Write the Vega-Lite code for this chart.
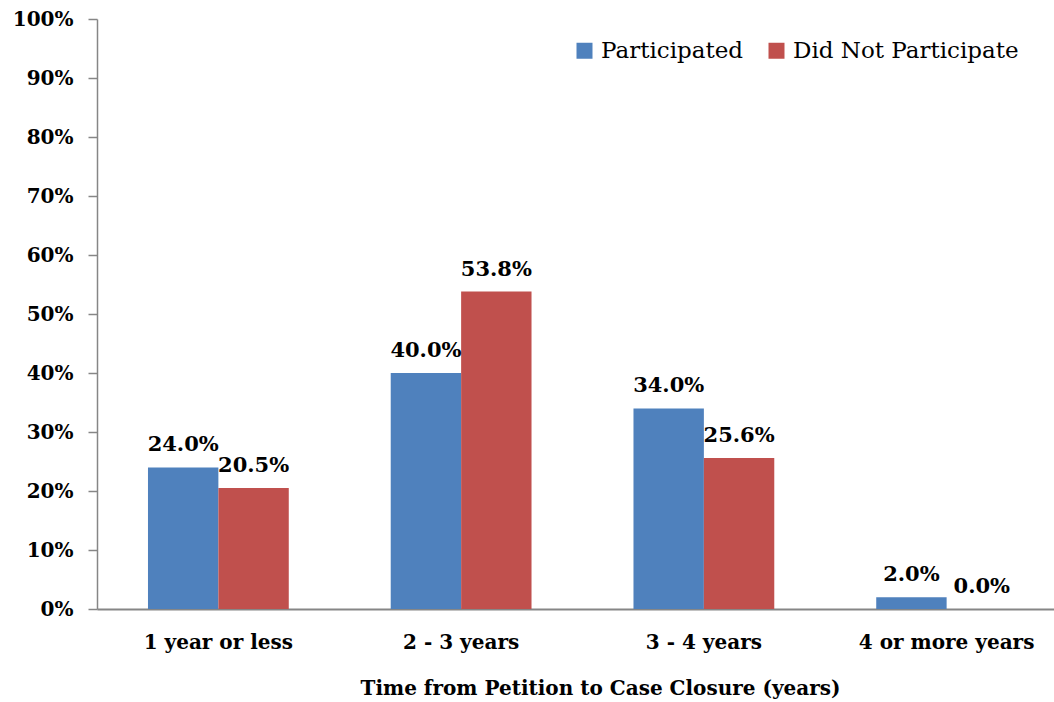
{
  "$schema": "https://vega.github.io/schema/vega-lite/v6.json",
  "width": 957,
  "height": 590,
  "autosize": {"type": "none"},
  "padding": {"left": 97, "top": 19, "right": 0, "bottom": 93},
  "config": {"view": {"stroke": null}, "font": "DejaVu Serif"},
  "data": {
    "values": [
      {"period": "1 year or less", "group": "Participated", "value": 0.24},
      {"period": "1 year or less", "group": "Did Not Participate", "value": 0.205},
      {"period": "2 - 3 years", "group": "Participated", "value": 0.40},
      {"period": "2 - 3 years", "group": "Did Not Participate", "value": 0.538},
      {"period": "3 - 4 years", "group": "Participated", "value": 0.34},
      {"period": "3 - 4 years", "group": "Did Not Participate", "value": 0.256},
      {"period": "4 or more years", "group": "Participated", "value": 0.02},
      {"period": "4 or more years", "group": "Did Not Participate", "value": 0.0}
    ]
  },
  "encoding": {
    "x": {
      "field": "period",
      "type": "nominal",
      "sort": ["1 year or less", "2 - 3 years", "3 - 4 years", "4 or more years"],
      "scale": {"range": [0, 971], "paddingInner": 0.42, "paddingOuter": 0.21},
      "axis": {
        "title": "Time from Petition to Case Closure (years)",
        "titleFont": "DejaVu Serif",
        "titleFontWeight": "bold",
        "titleFontSize": 20,
        "titleColor": "#000000",
        "titleX": 503,
        "titleY": 85,
        "titleBaseline": "alphabetic",
        "titleAlign": "center",
        "labelFont": "DejaVu Serif",
        "labelFontWeight": "bold",
        "labelFontSize": 20,
        "labelColor": "#000000",
        "labelAngle": 0,
        "labelPadding": 23,
        "ticks": false,
        "tickSize": 0,
        "domainColor": "#868686",
        "domainWidth": 2
      }
    },
    "xOffset": {
      "field": "group",
      "type": "nominal",
      "sort": ["Participated", "Did Not Participate"],
      "scale": {"paddingInner": 0, "paddingOuter": 0}
    },
    "y": {
      "field": "value",
      "type": "quantitative",
      "scale": {"domain": [0, 1], "nice": false},
      "axis": {
        "title": null,
        "format": ".0%",
        "values": [0, 0.1, 0.2, 0.3, 0.4, 0.5, 0.6, 0.7, 0.8, 0.9, 1.0],
        "grid": false,
        "labelFont": "DejaVu Serif",
        "labelFontWeight": "bold",
        "labelFontSize": 20,
        "labelColor": "#000000",
        "labelPadding": 15,
        "tickSize": 9,
        "tickColor": "#868686",
        "tickWidth": 1.5,
        "domainColor": "#868686",
        "domainWidth": 1.5
      }
    }
  },
  "layer": [
    {
      "mark": {"type": "bar"},
      "encoding": {
        "color": {
          "field": "group",
          "type": "nominal",
          "scale": {"domain": ["Participated", "Did Not Participate"], "range": ["#4F81BD", "#C0504D"]},
          "legend": {
            "title": null,
            "orient": "none",
            "direction": "horizontal",
            "legendX": 476,
            "legendY": 20,
            "padding": 0,
            "symbolType": "square",
            "symbolSize": 256,
            "symbolStrokeWidth": 0,
            "symbolOpacity": 1,
            "labelFont": "DejaVu Serif",
            "labelFontSize": 23,
            "labelColor": "#000000",
            "labelOffset": 5,
            "columnPadding": 22,
            "labelLimit": 400
          }
        }
      }
    },
    {
      "mark": {
        "type": "text",
        "font": "DejaVu Serif",
        "fontWeight": "bold",
        "fontSize": 21,
        "color": "#000000",
        "baseline": "alphabetic",
        "dy": -16
      },
      "encoding": {
        "text": {"field": "value", "type": "quantitative", "format": ".1%"}
      }
    }
  ]
}
